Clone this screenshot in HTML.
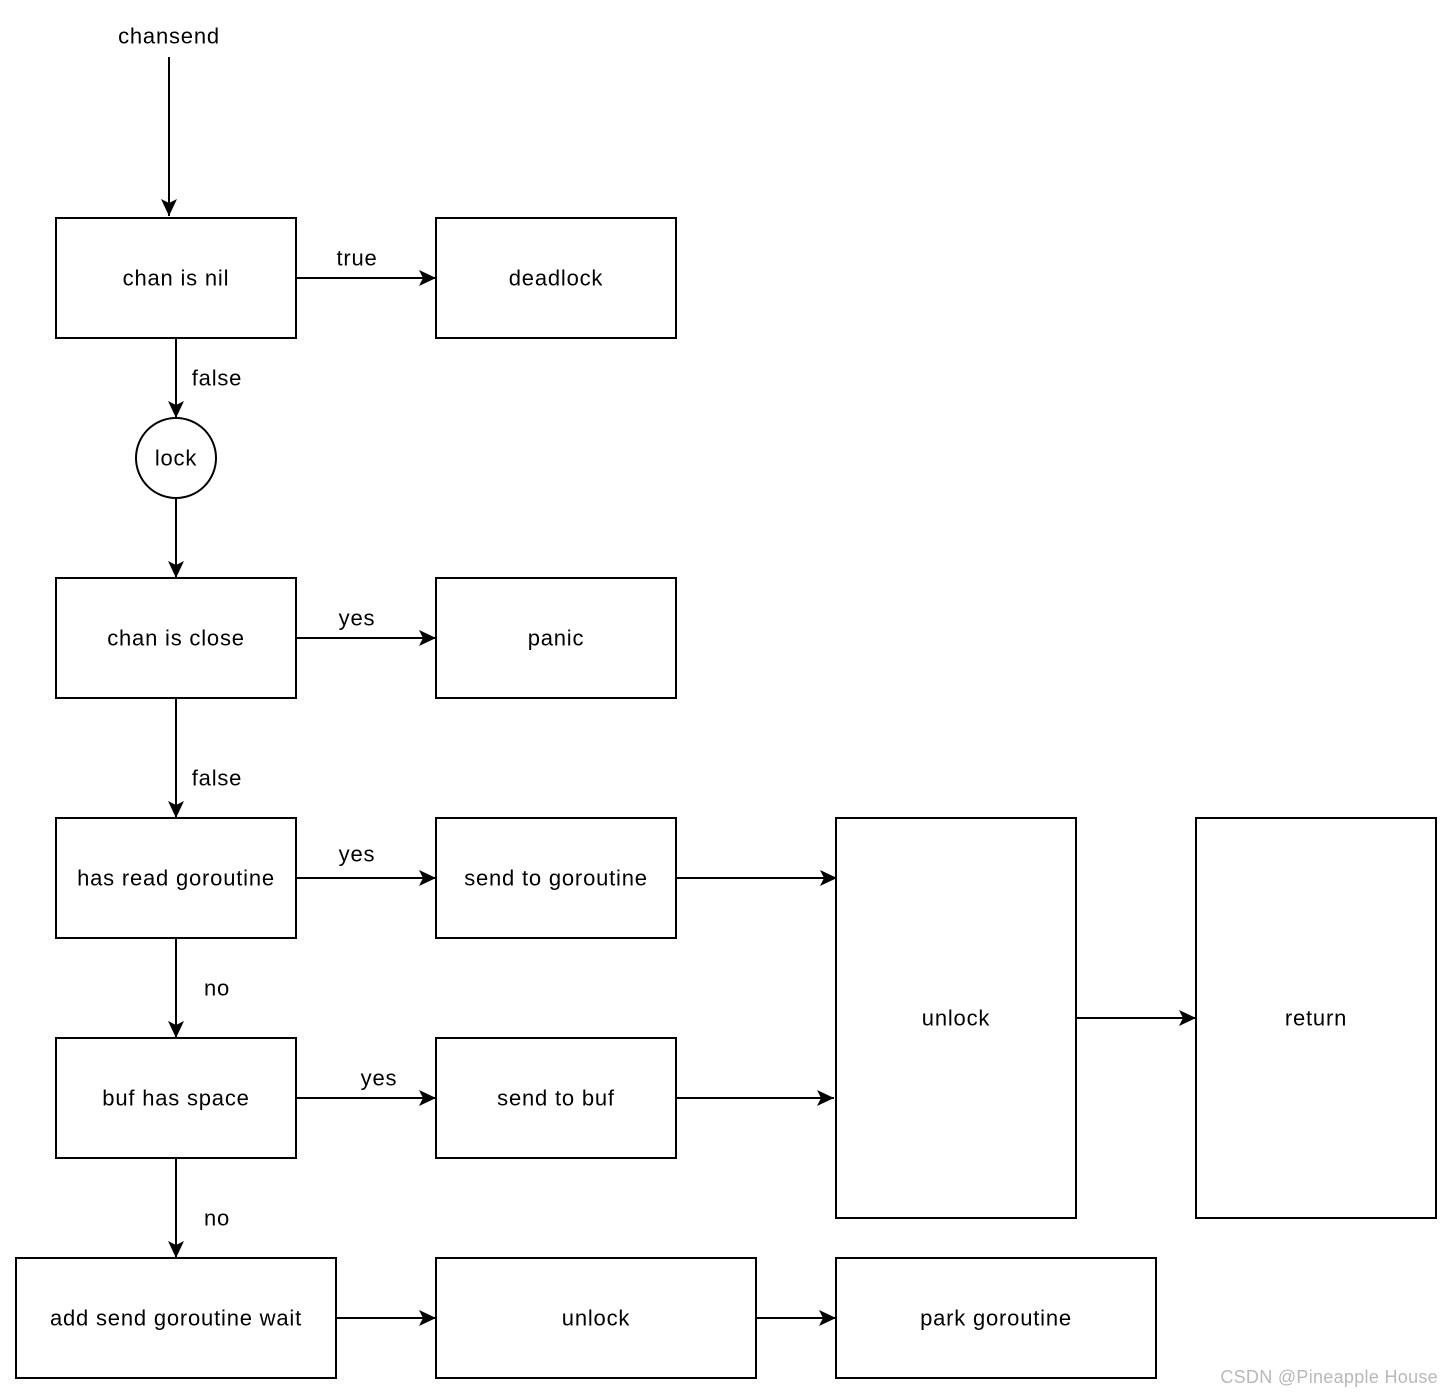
<!DOCTYPE html>
<html><head><meta charset="utf-8"><style>
html,body{margin:0;padding:0;background:#fff;}
svg{display:block;}
text{font-family:"Liberation Sans",Arial,sans-serif;font-size:22px;letter-spacing:0.8px;fill:#000;}
</style></head><body>
<svg width="1454" height="1396" viewBox="0 0 1454 1396" xmlns="http://www.w3.org/2000/svg">
<defs>
<marker id="a" markerUnits="userSpaceOnUse" markerWidth="20" markerHeight="20" refX="18" refY="10" orient="auto">
<path d="M1,2 L18,10 L1,18 L5,10 z" fill="#000"/>
</marker>
</defs>
<g fill="none" stroke="#000" stroke-width="2">
<rect x="56" y="218" width="240" height="120"/>
<rect x="436" y="218" width="240" height="120"/>
<circle cx="176" cy="458" r="40"/>
<rect x="56" y="578" width="240" height="120"/>
<rect x="436" y="578" width="240" height="120"/>
<rect x="56" y="818" width="240" height="120"/>
<rect x="436" y="818" width="240" height="120"/>
<rect x="836" y="818" width="240" height="400"/>
<rect x="1196" y="818" width="240" height="400"/>
<rect x="56" y="1038" width="240" height="120"/>
<rect x="436" y="1038" width="240" height="120"/>
<rect x="16" y="1258" width="320" height="120"/>
<rect x="436" y="1258" width="320" height="120"/>
<rect x="836" y="1258" width="320" height="120"/>
</g>
<g stroke="#000" stroke-width="2" marker-end="url(#a)">
<line x1="169" y1="57" x2="169" y2="216"/>
<line x1="296" y1="278" x2="436" y2="278"/>
<line x1="176" y1="338" x2="176" y2="418"/>
<line x1="176" y1="498" x2="176" y2="578"/>
<line x1="296" y1="638" x2="436" y2="638"/>
<line x1="176" y1="698" x2="176" y2="818"/>
<line x1="296" y1="878" x2="436" y2="878"/>
<line x1="676" y1="878" x2="837" y2="878"/>
<line x1="1076" y1="1018" x2="1196" y2="1018"/>
<line x1="176" y1="938" x2="176" y2="1038"/>
<line x1="296" y1="1098" x2="436" y2="1098"/>
<line x1="676" y1="1098" x2="834" y2="1098"/>
<line x1="176" y1="1158" x2="176" y2="1258"/>
<line x1="336" y1="1318" x2="436" y2="1318"/>
<line x1="756" y1="1318" x2="836" y2="1318"/>
</g>
<g text-anchor="middle" dominant-baseline="central">
<text x="169" y="36">chansend</text>
<text x="176" y="278">chan is nil</text>
<text x="556" y="278">deadlock</text>
<text x="357" y="258">true</text>
<text x="217" y="378">false</text>
<text x="176" y="458">lock</text>
<text x="176" y="638">chan is close</text>
<text x="556" y="638">panic</text>
<text x="357" y="618">yes</text>
<text x="217" y="778">false</text>
<text x="176" y="878">has read goroutine</text>
<text x="556" y="878">send to goroutine</text>
<text x="357" y="854">yes</text>
<text x="956" y="1018">unlock</text>
<text x="1316" y="1018">return</text>
<text x="217" y="988">no</text>
<text x="176" y="1098">buf has space</text>
<text x="556" y="1098">send to buf</text>
<text x="379" y="1078">yes</text>
<text x="217" y="1218">no</text>
<text x="176" y="1318">add send goroutine wait</text>
<text x="596" y="1318">unlock</text>
<text x="996" y="1318">park goroutine</text>
</g>
<text x="1438" y="1383" text-anchor="end" style="font-size:18px;letter-spacing:0.3px;fill:#b8b8b8">CSDN @Pineapple House</text>
</svg>
</body></html>
